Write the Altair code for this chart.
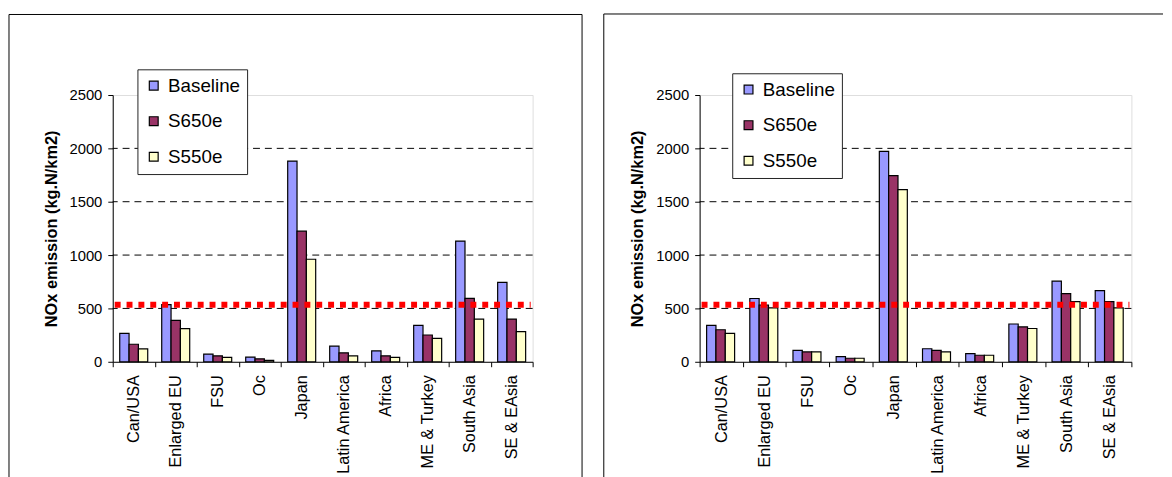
import altair as alt
import pandas as pd

categories = ["Can/USA", "Enlarged EU", "FSU", "Oc", "Japan", "Latin America",
              "Africa", "ME & Turkey", "South Asia", "SE & EAsia"]
series = ["Baseline", "S650e", "S550e"]
colors = ["#9999FF", "#993366", "#FFFFCC"]

left_baseline = [267, 536, 72, 44, 1881, 146, 102, 341, 1131, 744]
left_s650e = [164, 388, 56, 28, 1224, 84, 56, 251, 595, 400]
left_s550e = [121, 310, 41, 13, 961, 56, 41, 220, 400, 283]

right_baseline = [342, 593, 107, 49, 1971, 122, 76, 354, 756, 667]
right_s650e = [300, 532, 92, 33, 1745, 107, 61, 327, 639, 563]
right_s550e = [266, 505, 92, 33, 1613, 92, 61, 312, 563, 505]

threshold = [535]
grid_values = [500, 1000, 1500, 2000]
y_ticks = [0, 500, 1000, 1500, 2000, 2500]

FONT = "Liberation Sans"


def make_df(b, s6, s5):
    rows = []
    for i, c in enumerate(categories):
        rows.append({"cat": c, "series": "Baseline", "value": b[i]})
        rows.append({"cat": c, "series": "S650e", "value": s6[i]})
        rows.append({"cat": c, "series": "S550e", "value": s5[i]})
    return pd.DataFrame(rows)


def panel(df, w, h, legx, legy, fl, ft, fr, top_right):
    bars = alt.Chart(df).mark_bar(stroke="black", strokeWidth=1.2).encode(
        x=alt.X("cat:N", sort=categories,
                scale=alt.Scale(paddingInner=0, paddingOuter=0),
                axis=alt.Axis(title=None, labelAngle=270, labelFontSize=16.5, labelFont=FONT,
                              labelColor="black", tickBand="extent", tickSize=5,
                              tickColor="black", domainColor="black", labelPadding=8,
                              grid=False, labelLimit=300)),
        xOffset=alt.XOffset("series:N", sort=series,
                            scale=alt.Scale(paddingInner=0, paddingOuter=0.75)),
        y=alt.Y("value:Q", scale=alt.Scale(domain=[0, 2500], nice=False),
                axis=alt.Axis(title="NOx emission (kg.N/km2)", values=y_ticks, grid=False,
                              format="d",
                              labelFontSize=15, labelFont=FONT, labelColor="black",
                              tickSize=5, tickColor="black", domainColor="black",
                              labelPadding=6, titleFont=FONT, titleFontSize=16.5,
                              titleFontWeight="bold", titleColor="black", titlePadding=10)),
        color=alt.Color("series:N", sort=series,
                        scale=alt.Scale(domain=series, range=colors),
                        legend=alt.Legend(title=None, orient="none", legendX=legx, legendY=legy,
                                          fillColor="white", strokeColor="#222222", padding=7,
                                          symbolType="square", symbolSize=80,
                                          symbolStrokeColor="black", symbolStrokeWidth=1.2,
                                          labelFontSize=19, labelFont=FONT, labelColor="black",
                                          rowPadding=16, labelOffset=5)),
    )
    grid = alt.Chart(pd.DataFrame({"g": grid_values})).mark_rule(
        color="black", strokeWidth=1, strokeDash=[7, 5]).encode(y="g:Q")
    red = alt.Chart(pd.DataFrame({"t": threshold})).mark_rule(
        color="#FF0000", strokeWidth=6, strokeDash=[6, 6]).encode(
        y="t:Q", x=alt.value(2), x2=alt.value(w - 2))
    dummy = pd.DataFrame({"a": [0]})
    frame_left = alt.Chart(dummy).mark_rule(color="black", strokeWidth=1).encode(
        x=alt.value(fl), y=alt.value(ft), y2=alt.value(420))
    frame_top = alt.Chart(dummy).mark_rule(color="black", strokeWidth=1).encode(
        x=alt.value(fl), x2=alt.value(fr if fr is not None else top_right), y=alt.value(ft))
    layers = [frame_left, frame_top, grid, bars, red]
    if fr is not None:
        frame_right = alt.Chart(dummy).mark_rule(color="black", strokeWidth=1).encode(
            x=alt.value(fr), y=alt.value(ft), y2=alt.value(420))
        layers.insert(2, frame_right)
    return alt.layer(*layers).properties(width=w, height=h)


left = panel(make_df(left_baseline, left_s650e, left_s550e), 425, 270, 25, -26,
             -105, -81.5, 475, None)
right = panel(make_df(right_baseline, right_s650e, right_s550e), 437, 270, 33, -22,
              -97, -82, None, 469)

chart = alt.hconcat(left, right, spacing=20).resolve_scale(
    color="independent", y="independent", x="independent"
).resolve_legend(color="independent").properties(
    padding={"left": 0, "top": 2, "right": 0, "bottom": 0}
).configure_view(stroke="#808080", strokeWidth=1).configure(background="white")

chart.save("out.html", embed_options={"renderer": "svg", "actions": False})
